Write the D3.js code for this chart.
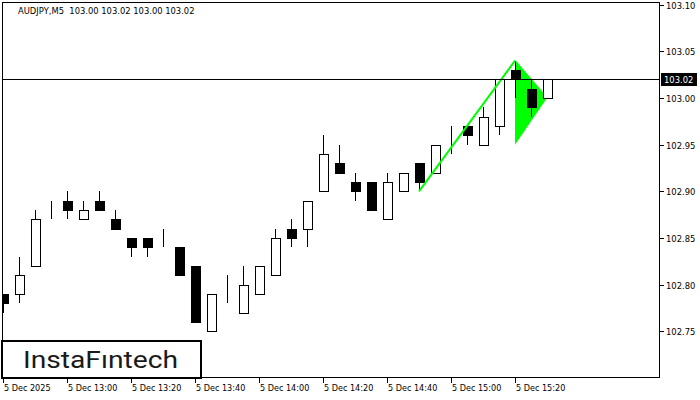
<!DOCTYPE html>
<html>
<head>
<meta charset="utf-8">
<script src="https://cdn.jsdelivr.net/npm/d3@7"></script>
<style>
  html, body { margin: 0; padding: 0; background: #fff; }
  svg { display: block; }
</style>
</head>
<body>
<svg id="chart" width="700" height="400"></svg>
<script>
// AUDJPY M5 candles, 12:40 .. 15:30 on 5 Dec 2025
const barTimes = ["12:40","12:45","12:50","12:55","13:00","13:05","13:10","13:15","13:20","13:25","13:30","13:35",
    "13:40","13:45","13:50","13:55","14:00","14:05","14:10","14:15","14:20","14:25","14:30","14:35",
    "14:40","14:45","14:50","14:55","15:00","15:05","15:10","15:15","15:20","15:25","15:30"];
const openPrices  = [102.79,102.79,102.82,102.88,102.89,102.87,102.89,102.87,102.85,102.85,102.85,102.84,
    102.82,102.75,102.78,102.77,102.79,102.81,102.86,102.86,102.90,102.93,102.91,102.91,
    102.87,102.90,102.93,102.92,102.96,102.97,102.95,102.97,103.03,103.01,103.00];
const highPrices  = [102.79,102.83,102.88,102.89,102.90,102.89,102.90,102.88,102.85,102.85,102.86,102.84,
    102.82,102.79,102.81,102.82,102.82,102.86,102.87,102.89,102.96,102.95,102.92,102.91,
    102.92,102.92,102.93,102.95,102.97,102.97,102.99,103.02,103.04,103.02,103.02];
const lowPrices   = [102.77,102.78,102.82,102.87,102.87,102.87,102.88,102.86,102.83,102.83,102.84,102.81,
    102.76,102.75,102.78,102.77,102.79,102.81,102.84,102.84,102.90,102.92,102.89,102.88,
    102.87,102.90,102.90,102.92,102.94,102.95,102.95,102.96,103.00,102.98,103.00];
const closePrices = [102.78,102.81,102.87,102.88,102.88,102.88,102.88,102.86,102.84,102.84,102.85,102.81,
    102.76,102.79,102.78,102.80,102.82,102.85,102.85,102.89,102.94,102.92,102.90,102.88,
    102.91,102.92,102.91,102.95,102.96,102.96,102.98,103.02,103.02,102.99,103.02];

const priceTicks = [103.10, 103.05, 103.00, 102.95, 102.90, 102.85, 102.80, 102.75];
const timeTickIdx = [0, 4, 8, 12, 16, 20, 24, 28, 32];
const timeTickLabels = ["5 Dec 2025","5 Dec 13:00","5 Dec 13:20","5 Dec 13:40","5 Dec 14:00",
    "5 Dec 14:20","5 Dec 14:40","5 Dec 15:00","5 Dec 15:20"];

const lastPrice = 103.02;
// bullish pennant: pole start, apex, lower and right vertex (bar index, price)
const poleStart = [26, 102.90];
const pennantTop = [32, 103.04];
const pennantBottom = [32, 102.95];
const pennantRight = [34, 103.00];

const LEFT = 3, TOP = 3, RIGHT = 660, BOTTOM = 378;
const AXIS_FONT = "DejaVu Sans, sans-serif";

const svg = d3.select("#chart");

const x = d3.scaleLinear().domain([0, 34]).range([3, 547]);
const y = d3.scaleLinear().domain([102.70, 103.1018]).range([BOTTOM, TOP]);

const candles = barTimes.map((t, i) => ({
    t: t, o: openPrices[i], h: highPrices[i], l: lowPrices[i], c: closePrices[i], i: i
}));

svg.append("defs").append("clipPath").attr("id", "plot-clip")
    .append("rect")
    .attr("x", LEFT).attr("y", TOP)
    .attr("width", RIGHT - LEFT).attr("height", BOTTOM - TOP);

let plot = svg.append("g").attr("clip-path", "url(#plot-clip)");

// pennant body sits behind the candles
plot.append("polygon")
    .attr("points", [pennantTop, pennantRight, pennantBottom]
        .map(p => x(p[0]) + "," + y(p[1])).join(" "))
    .attr("fill", "#00ff00");

plot.append("line")
    .attr("x1", x(pennantTop[0])).attr("y1", y(pennantTop[1]))
    .attr("x2", x(pennantRight[0])).attr("y2", y(pennantRight[1]))
    .attr("stroke", "#00ff00").attr("stroke-width", 1.5);

// candles
let candle = plot.selectAll("g.candle")
    .data(candles)
    .enter()
    .append("g")
    .attr("class", "candle");

candle.append("line")
    .attr("x1", d => Math.round(x(d.i)) + 0.5)
    .attr("x2", d => Math.round(x(d.i)) + 0.5)
    .attr("y1", d => Math.round(y(d.h)))
    .attr("y2", d => Math.round(y(d.l)))
    .attr("stroke", "#000")
    .attr("stroke-width", 1);

candle.append("rect")
    .attr("x", d => Math.round(x(d.i)) - 4 + 0.5)
    .attr("y", d => Math.round(y(Math.max(d.o, d.c))) + 0.5)
    .attr("width", 9)
    .attr("height", d => Math.max(0, Math.round(y(Math.min(d.o, d.c))) - Math.round(y(Math.max(d.o, d.c)))))
    .attr("fill", d => d.c < d.o ? "#000" : "#fff")
    .attr("stroke", "#000")
    .attr("stroke-width", 1);

// flag pole drawn over the candles
plot.append("line")
    .attr("x1", x(poleStart[0])).attr("y1", y(poleStart[1]))
    .attr("x2", x(pennantTop[0])).attr("y2", y(pennantTop[1]))
    .attr("stroke", "#00ff00").attr("stroke-width", 2);

// last price line
plot.append("line")
    .attr("x1", LEFT).attr("x2", RIGHT)
    .attr("y1", Math.round(y(lastPrice)) + 0.5).attr("y2", Math.round(y(lastPrice)) + 0.5)
    .attr("stroke", "#000").attr("stroke-width", 1);

// frame
svg.append("rect")
    .attr("x", LEFT - 0.5).attr("y", TOP - 0.5)
    .attr("width", RIGHT - LEFT).attr("height", BOTTOM - TOP)
    .attr("fill", "none").attr("stroke", "#000").attr("stroke-width", 1);

// price axis
let yAxis = svg.append("g");
priceTicks.forEach(p => {
    let py = Math.round(y(p)) + 0.5;
    yAxis.append("line")
        .attr("x1", RIGHT).attr("x2", RIGHT + 4)
        .attr("y1", py).attr("y2", py)
        .attr("stroke", "#000");
    yAxis.append("text")
        .attr("x", RIGHT + 6).attr("y", py + 3)
        .attr("font-family", AXIS_FONT).attr("font-size", 8.4)
        .attr("fill", "#000")
        .text(p.toFixed(2));
});

// last price tag
let tagY = Math.round(y(lastPrice));
svg.append("rect")
    .attr("x", RIGHT + 1).attr("y", tagY - 6)
    .attr("width", 36).attr("height", 13)
    .attr("fill", "#000");
svg.append("text")
    .attr("x", RIGHT + 4).attr("y", tagY + 4)
    .attr("font-family", AXIS_FONT).attr("font-size", 8.4)
    .attr("fill", "#fff")
    .text(lastPrice.toFixed(2));

// time axis
let xAxis = svg.append("g");
timeTickIdx.forEach((idx, k) => {
    let px = Math.round(x(idx)) + 0.5;
    xAxis.append("line")
        .attr("x1", px).attr("x2", px)
        .attr("y1", BOTTOM).attr("y2", BOTTOM + 5)
        .attr("stroke", "#000");
    xAxis.append("text")
        .attr("x", px + 0.5).attr("y", 391)
        .attr("font-family", AXIS_FONT).attr("font-size", 8.1)
        .attr("fill", "#000")
        .text(timeTickLabels[k]);
});

// header
svg.append("text")
    .attr("x", 18).attr("y", 14)
    .attr("font-family", AXIS_FONT).attr("font-size", 8.4)
    .attr("fill", "#000")
    .attr("xml:space", "preserve")
    .text("AUDJPY,M5  " + [openPrices[34], highPrices[34], lowPrices[34], closePrices[34]]
        .map(v => v.toFixed(2)).join(" "));

// watermark logo
svg.append("rect")
    .attr("x", 2).attr("y", 341)
    .attr("width", 199).attr("height", 37)
    .attr("fill", "#fff").attr("stroke", "#000").attr("stroke-width", 2);
svg.append("text")
    .attr("x", 23).attr("y", 367.5)
    .attr("font-family", "Roboto, sans-serif").attr("font-weight", 400)
    .attr("font-size", 23.5)
    .attr("textLength", 155).attr("lengthAdjust", "spacingAndGlyphs")
    .attr("fill", "#1a1a1a")
    .text("InstaF\u0131ntech");
</script>
</body>
</html>
